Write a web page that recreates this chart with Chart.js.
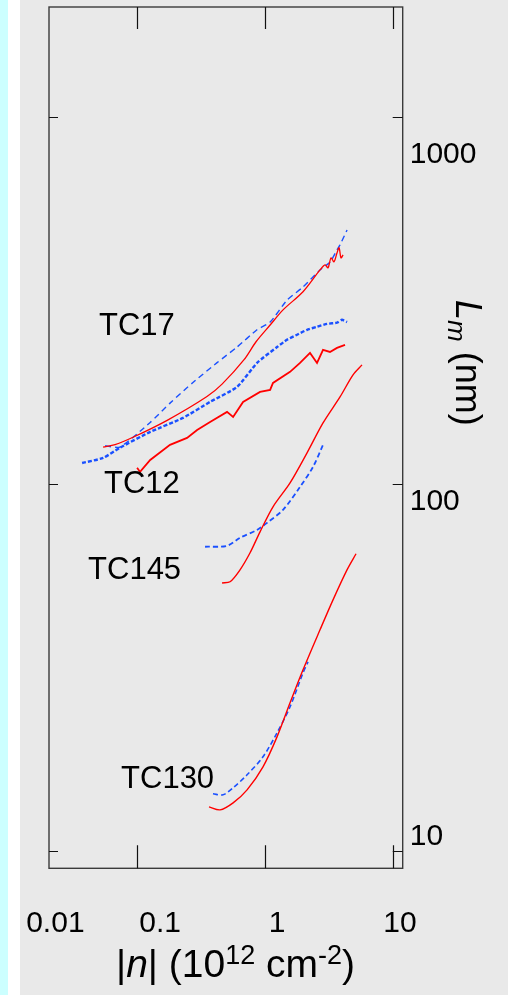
<!DOCTYPE html>
<html>
<head>
<meta charset="utf-8">
<script src="https://cdn.jsdelivr.net/npm/chart.js@4/dist/chart.umd.min.js"></script>
<style>
  html, body { margin: 0; padding: 0; }
  body {
    width: 508px; height: 995px; overflow: hidden;
    background: linear-gradient(to right, #ccffff 0px, #ccffff 8px, #ffffff 8px, #ffffff 20px, #e9e9e9 20px);
  }
  #wrap { position: absolute; left: 0; top: 0; width: 508px; height: 995px; }
</style>
</head>
<body>
<div id="wrap"><canvas id="myChart" width="508" height="995"></canvas></div>
<script>
// tick values / labels
const xTicks = [0.01, 0.1, 1, 10];
const xTickLabels = ["0.01", "0.1", "1", "10"];
const yTicks = [10, 100, 1000];
const yTickLabels = ["10", "100", "1000"];

// TC17 (upper pair)
const tc17RedN = [0.054, 0.067, 0.0925, 0.171, 0.350, 0.459, 0.682, 0.846, 1.09, 1.375, 1.97, 2.675, 2.93, 3.09, 3.26, 3.44, 3.63, 3.77, 3.90, 4.05];
const tc17RedL = [126, 128, 134, 149, 173, 187, 218, 244, 271, 298, 334, 383, 395, 388, 413, 403, 426, 440, 413, 421];
const tc17BlueN = [0.056, 0.073, 0.126, 0.180, 0.272, 0.420, 0.601, 0.861, 1.09, 1.48, 1.97, 2.675, 3.2, 3.63, 3.83, 4.35];
const tc17BlueL = [127, 126, 147, 166, 189, 214, 236, 263, 276, 317, 344, 383, 402, 434, 448, 492];
// TC12 (lower pair)
const tc12BlueN = [0.037, 0.054, 0.073, 0.126, 0.2275, 0.370, 0.601, 0.861, 1.234, 1.477, 1.77, 2.118, 2.535, 3.034, 3.63, 3.97, 4.35];
const tc12BlueL = [114, 117.7, 125.4, 138.6, 151.3, 167.3, 183.8, 213.6, 236, 247, 255, 263, 268, 273, 275, 280, 276];
const tc12RedN = [0.0995, 0.105, 0.126, 0.180, 0.2445, 0.293, 0.370, 0.502, 0.56, 0.67, 0.909, 1.09, 1.148, 1.56, 1.867, 2.234, 2.535, 2.824, 3.20, 3.63, 4.195];
const tc12RedL = [110.6, 107.8, 116.2, 127.8, 133.5, 140.3, 147.5, 157.1, 152.2, 167.3, 178.1, 180.4, 188.5, 202, 213.6, 227.5, 213.6, 231.8, 228.9, 234.8, 239.2];
// TC145
const tc145RedN = [0.459, 0.530, 0.634, 0.760, 0.909, 1.148, 1.56, 2.118, 2.824, 3.833, 4.844, 5.69];
const tc145RedL = [53.7, 54.1, 58.3, 64.9, 74.0, 86.6, 100.6, 121.5, 146.6, 172.6, 198.2, 211];
const tc145BlueN = [0.338, 0.502, 0.634, 0.861, 1.031, 1.375, 1.867, 2.359, 2.824];
const tc145BlueL = [67.4, 67.8, 71.3, 74.9, 78.3, 85.0, 98.1, 111.3, 127.8];
// TC130
const tc130RedN = [0.363, 0.443, 0.560, 0.720, 0.959, 1.234, 1.56, 1.97, 2.675, 3.38, 4.347, 5.113];
const tc130RedL = [13.18, 12.93, 13.51, 14.66, 16.94, 20.44, 25.31, 31.13, 40.02, 48.3, 58.3, 64.5];
const tc130BlueN = [0.390, 0.467, 0.560, 0.720, 0.959, 1.234, 1.56, 1.97, 2.156];
const tc130BlueL = [14.30, 14.21, 14.85, 16.11, 18.04, 20.96, 24.69, 30.55, 32.73];

// sample labels: [text, n, L] (left / baseline anchor)
const sampleLabels = [["TC17", 0.0502, 254.7], ["TC12", 0.0549, 94.5], ["TC145", 0.0412, 55.1], ["TC130", 0.0746, 14.85]];

const font = "'Liberation Sans', Arial, sans-serif";
const RED = "#ff0000";
const BLUE = "#1a50ff";

function pts(xs, ys) { return xs.map((v, i) => ({ x: v, y: ys[i] })); }
function solid(xs, ys, w, tension) {
  return { data: pts(xs, ys), borderColor: RED, borderWidth: w, showLine: true, pointRadius: 0, fill: false, tension: tension };
}
function dashed(xs, ys, w, dash, tension) {
  return { data: pts(xs, ys), borderColor: BLUE, borderWidth: w, borderDash: dash, showLine: true, pointRadius: 0, fill: false, tension: tension };
}

const frame = {
  id: "frame",
  afterDraw(chart) {
    const ctx = chart.ctx, xs = chart.scales.x, ys = chart.scales.y, a = chart.chartArea;
    ctx.save();
    ctx.strokeStyle = "#3a3a3a";
    ctx.lineWidth = 1.4;
    ctx.strokeRect(a.left, a.top, a.right - a.left, a.bottom - a.top);
    ctx.strokeStyle = "#111";
    ctx.lineWidth = 1.2;
    ctx.beginPath();
    xTicks.forEach(v => {
      if (v < xs.min || v > xs.max) return;
      const px = Math.round(xs.getPixelForValue(v)) + 0.5;
      ctx.moveTo(px, a.top); ctx.lineTo(px, a.top + 22);
      ctx.moveTo(px, a.bottom); ctx.lineTo(px, a.bottom - 23);
    });
    yTicks.forEach(v => {
      const py = Math.round(ys.getPixelForValue(v)) + 0.5;
      ctx.moveTo(a.left, py); ctx.lineTo(a.left + 9, py);
      ctx.moveTo(a.right, py); ctx.lineTo(a.right - 10, py);
    });
    ctx.stroke();

    ctx.fillStyle = "#000";
    // x tick labels (shifted as in the original)
    const xShift = [46, 22.7, 11.7, 6.7];
    ctx.font = "30px " + font;
    ctx.textAlign = "center";
    ctx.textBaseline = "alphabetic";
    xTicks.forEach((v, i) => ctx.fillText(xTickLabels[i], xs.getPixelForValue(v) + xShift[i], 932));
    // y tick labels on right
    const yShift = [-6, 26, 46];
    ctx.font = "30px " + font;
    ctx.textAlign = "left";
    yTicks.forEach((v, i) => ctx.fillText(yTickLabels[i], a.right + 7, ys.getPixelForValue(v) + yShift[i]));

    // sample names
    ctx.font = "31px " + font;
    sampleLabels.forEach(s => ctx.fillText(s[0], xs.getPixelForValue(s[1]), ys.getPixelForValue(s[2])));

    // x title: |n| (10^12 cm^-2)
    const big = "39px " + font, ital = "italic 39px " + font, sup = "27px " + font;
    const parts = [["|", big, 0], ["n", ital, 0], ["| (10", big, 0], ["12", sup, -13], [" cm", big, 0], ["-2", sup, -13], [")", big, 0]];
    let x = 116;
    parts.forEach(p => {
      ctx.font = p[1];
      ctx.fillText(p[0], x, 977 + p[2]);
      x += ctx.measureText(p[0]).width;
    });

    // y title: L_m (nm), rotated clockwise
    ctx.translate(456, 300);
    ctx.rotate(Math.PI / 2);
    const yb = "36px " + font, yi = "italic 36px " + font;
    const yparts = [["L", yi, 0], ["m", "italic 26px " + font, 8], [" (nm)", yb, 0]];
    let t = 0;
    yparts.forEach(p => {
      ctx.font = p[1];
      ctx.fillText(p[0], t, p[2]);
      t += ctx.measureText(p[0]).width;
    });
    ctx.restore();
  }
};

new Chart(document.getElementById("myChart").getContext("2d"), {
  type: "scatter",
  data: {
    datasets: [
      solid(tc17RedN, tc17RedL, 1.3, 0.3),
      dashed(tc17BlueN, tc17BlueL, 1.4, [6, 4], 0.2),
      dashed(tc12BlueN, tc12BlueL, 2.4, [4, 2], 0.2),
      solid(tc12RedN, tc12RedL, 1.8, 0),
      solid(tc145RedN, tc145RedL, 1.4, 0.3),
      dashed(tc145BlueN, tc145BlueL, 1.8, [5, 3], 0.3),
      solid(tc130RedN, tc130RedL, 1.4, 0.3),
      dashed(tc130BlueN, tc130BlueL, 1.6, [5, 3], 0.3)
    ]
  },
  options: {
    responsive: false,
    animation: false,
    layout: { padding: { left: 49, top: 7, right: 105.3, bottom: 126.7 } },
    plugins: { legend: { display: false }, tooltip: { enabled: false } },
    scales: {
      x: { type: "logarithmic", min: 0.0204, max: 11.84, display: false },
      y: { type: "logarithmic", min: 8.96, max: 1994, display: false }
    }
  },
  plugins: [frame]
});
</script>
</body>
</html>
